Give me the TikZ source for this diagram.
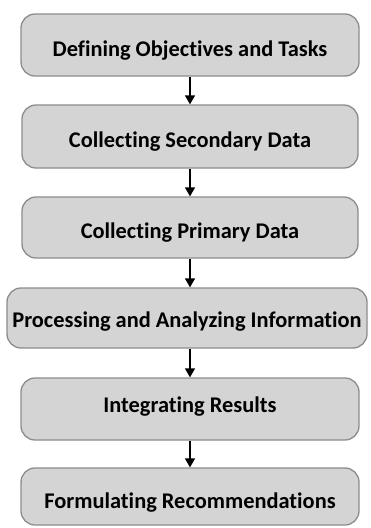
\documentclass[tikz,border=0pt]{standalone}
\usepackage{fontspec}
\setmainfont[Ligatures={NoCommon}]{Carlito}
\usetikzlibrary{arrows.meta}
\definecolor{boxfill}{RGB}{212,212,212}
\definecolor{boxline}{RGB}{140,140,140}
% label text whose capitals sit #1 below the box centre
\newcommand\steplabel[2]{\raisebox{-#1}[14.4pt][0pt]{#2}}
\tikzset{
  stagebox/.style={draw=boxline, line width=1.3pt, fill=boxfill,
    rounded corners=14pt, inner sep=0pt, font=\bfseries\fontsize{22.4}{25}\selectfont},
  flowarrow/.style={-{Triangle[length=9pt,width=10pt]}, line width=1.4pt, black}
}
\begin{document}
\begin{tikzpicture}[x=1pt,y=-1pt]
  \useasboundingbox (0,0) rectangle (370,528);
  % stage boxes, one per step of the process
  \node[stagebox, minimum width=338pt, minimum height=62pt] (s1) at (190,45) {\steplabel{4pt}{Defining Objectives and Tasks}};
  \node[stagebox, minimum width=336pt, minimum height=63pt] (s2) at (190,136.5) {\steplabel{4pt}{Collecting Secondary Data}};
  \node[stagebox, minimum width=336pt, minimum height=61pt] (s3) at (190,227.5) {\steplabel{3.5pt}{Collecting Primary Data}};
  \node[stagebox, minimum width=360pt, minimum height=60pt] (s4) at (187,318) {\steplabel{2.5pt}{Processing and Analyzing Information}};
  \node[stagebox, minimum width=338pt, minimum height=62pt] (s5) at (190,409) {\steplabel{-3.5pt}{Integrating Results}};
  \node[stagebox, minimum width=338pt, minimum height=57pt] (s6) at (190,496.5) {\steplabel{4.5pt}{Formulating Recommendations}};
  % vertical connectors along the common centre line
  \foreach \a/\b in {s1/s2,s2/s3,s3/s4,s4/s5,s5/s6}
    \draw[flowarrow] (s1.south |- \a.south) -- (s1.south |- \b.north);
\end{tikzpicture}
\end{document}
